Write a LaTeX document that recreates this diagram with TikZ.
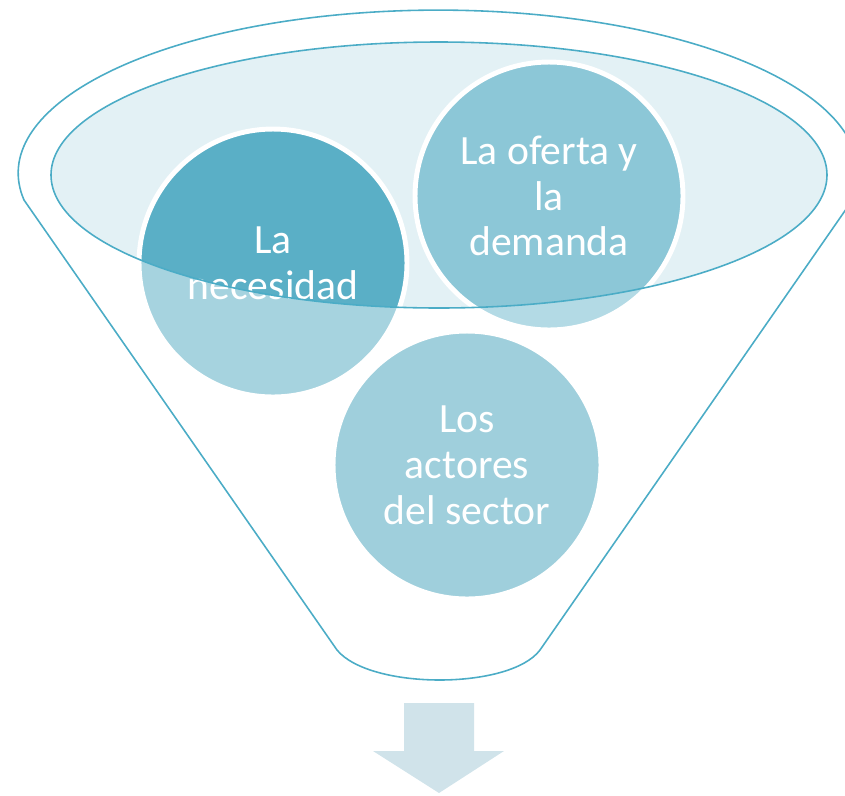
\documentclass[tikz,border=0pt]{standalone}
\usepackage{fontspec}
\setmainfont{Carlito}
\usepackage{tikz}

\definecolor{embudo}{HTML}{4BACC6}
\definecolor{boca}{HTML}{E3F1F5}
\definecolor{necesidadin}{HTML}{5AAFC6}
\definecolor{necesidadout}{HTML}{A6D3DF}
\definecolor{ofertain}{HTML}{8CC7D7}
\definecolor{ofertaout}{HTML}{B3DAE5}
\definecolor{actores}{HTML}{9FCFDC}
\definecolor{flecha}{HTML}{D0E3EA}

\begin{document}
\begin{tikzpicture}[x=0.02cm, y=-0.02cm,
    bola/.style={circle, minimum size=5.36cm, inner sep=0pt, text=white, align=center,
                 font=\fontsize{23.7}{26.1}\selectfont,
                 postaction={draw=white, line width=2.8pt}},
    dentro/.style={path picture={\fill[#1] (boca) ellipse[x radius=388, y radius=133];}},
    borde/.style={draw=embudo, line width=0.9pt}]
              \useasboundingbox (0,0) rectangle (845,795);
              \coordinate (boca) at (439,175);
              \draw[borde] (24,200) arc[start angle=170.5, end angle=369.5, x radius=420, y radius=163]
                    -- (540,650) .. controls (510,690) and (370,690) .. (337,650) -- cycle;
              \fill[boca] (boca) ellipse[x radius=388, y radius=133];
              \node (necesidad) [bola, fill=necesidadout, dentro=necesidadin] at (273,263) {La\\necesidad};
              \node (oferta)    [bola, fill=ofertaout, dentro=ofertain]       at (549,196) {La oferta y\\la\\demanda};
              \node (actores)   [bola, fill=actores]                          at (467,465) {Los\\actores\\del sector};
              \draw[borde] (boca) ellipse[x radius=388, y radius=133];
              \fill[flecha] (404,703) -- (474,703) -- (474,751) -- (504,751) -- (439,793)
                    -- (373,751) -- (404,751) -- cycle;
            \end{tikzpicture}
\end{document}
